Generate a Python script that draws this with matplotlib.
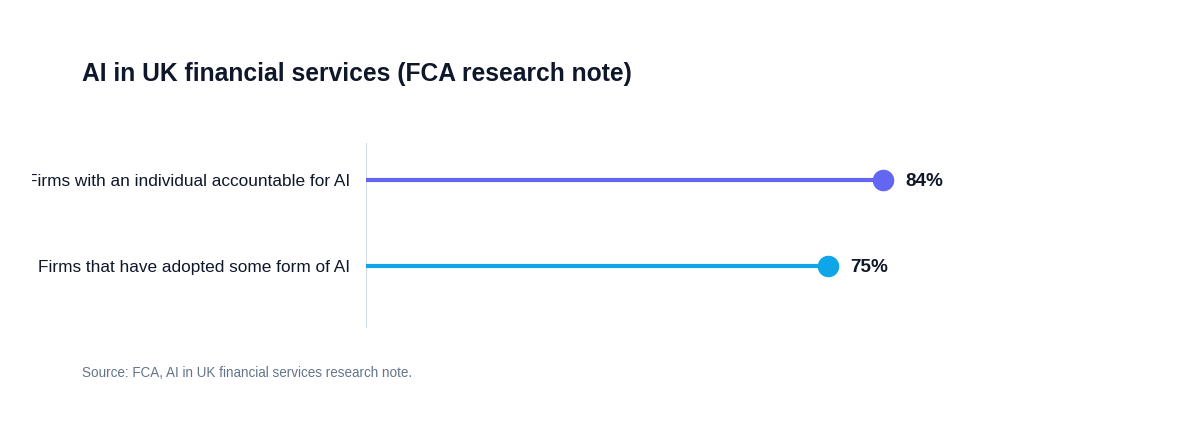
import matplotlib.pyplot as plt
import matplotlib.transforms as mtransforms

plt.rcParams['font.family'] = ['Liberation Sans', 'DejaVu Sans']

# data
labels = ['Firms that have adopted some form of AI',
          'Firms with an individual accountable for AI']
values = [75, 84]
colors = ['#0ea5e9', '#6366f1']

title = 'AI in UK financial services (FCA research note)'
source = 'Source: FCA, AI in UK financial services research note.'

fig = plt.figure(figsize=(12, 4.35), dpi=100)
ax = fig.add_axes([366 / 1200, 106 / 435, 616 / 1200, 185 / 435])

text_dark = '#0f172a'

for i, (lab, val, col) in enumerate(zip(labels, values, colors)):
    ax.plot([0, val], [i, i], color=col, lw=3, solid_capstyle='butt', zorder=2)
    ax.plot(val, i, 'o', color=col, markersize=14.5, zorder=3)
    ax.annotate(f'{val}%', xy=(val, i), xytext=(16, 0), textcoords='offset points',
                ha='left', va='center', fontsize=13.6, fontweight='bold',
                color=text_dark)
    t = ax.annotate(lab, xy=(0, i), xytext=(-11.5, 0), textcoords='offset points',
                    ha='right', va='center', fontsize=12.4, color=text_dark,
                    annotation_clip=False)
    # left edge of the canvas cuts the long label in the reference
    t.set_clip_box(mtransforms.TransformedBbox(
        mtransforms.Bbox([[32 / 1200, 0], [1, 1]]), fig.transFigure))
    t.set_clip_on(True)

ax.set_xlim(0, 100)
ax.set_ylim(-0.718, 1.432)
ax.axvline(0, color='#cbd5e1', lw=1.2, zorder=1)
for s in ax.spines.values():
    s.set_visible(False)
ax.set_xticks([])
ax.set_yticks([])

fig.text(82 / 1200, 1 - 74 / 435, title, fontsize=17.7, fontweight='bold',
         color=text_dark, ha='left', va='center')
fig.text(82 / 1200, 1 - 373 / 435, source, fontsize=9.75, color='#64748b',
         ha='left', va='center')

fig.savefig('out.png', dpi=100, facecolor='white')
